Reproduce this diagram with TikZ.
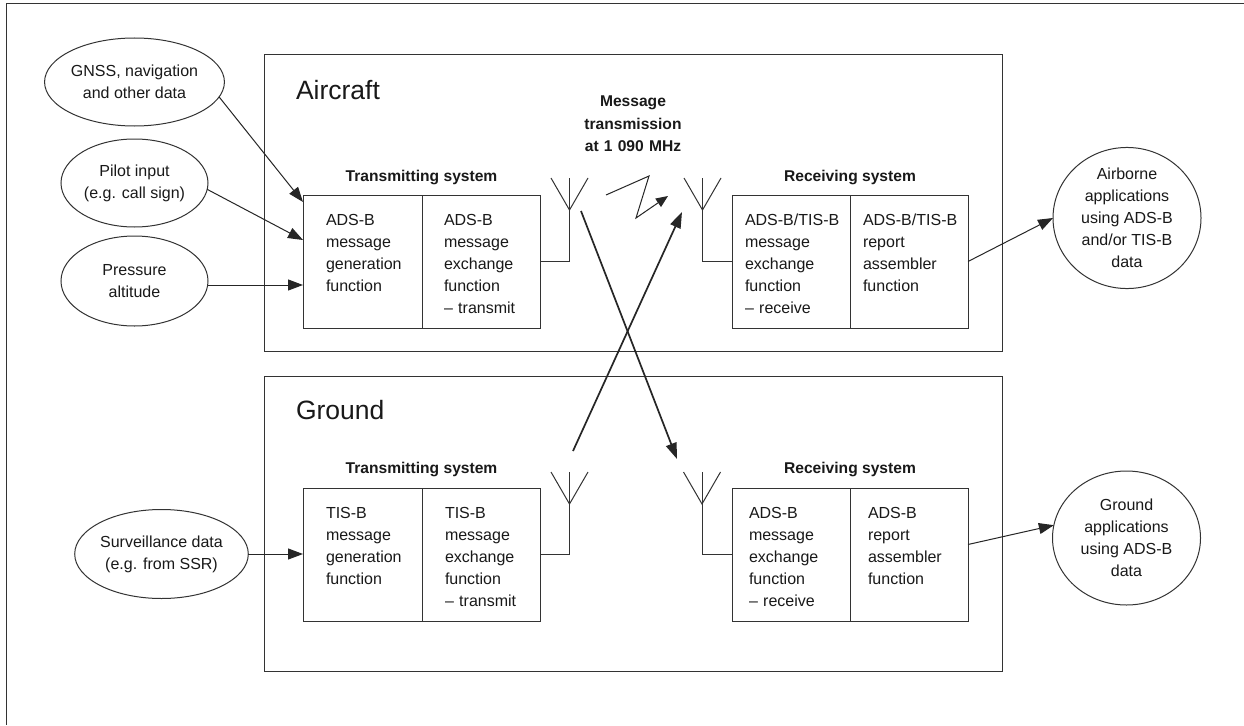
\documentclass[tikz,border=0pt]{standalone}
\usepackage{fontspec}
\setmainfont{Liberation Sans}
\usetikzlibrary{arrows.meta,calc,shapes.geometric}
\begin{document}
\begin{tikzpicture}[x=1pt,y=-1pt,
  every node/.style={inner sep=0pt, outer sep=0pt, text=black!90},
  ln/.style={draw=black!80, line width=1pt},
  area/.style={ln, anchor=north west},
  cell/.style={ln, anchor=north west, minimum height=133pt},
  ctext/.style={anchor=base west, text width=112pt, align=left, font=\fontsize{16}{22}\selectfont},
  bigtitle/.style={anchor=base west, font=\fontsize{26.5}{30}\selectfont},
  sysl/.style={anchor=base, font=\bfseries\fontsize{15.6}{22}\selectfont},
  src/.style={ln, ellipse, minimum width=147pt, minimum height=88pt, align=center, font=\fontsize{16}{22}\selectfont},
  app/.style={ln, ellipse, minimum width=148pt, minimum height=134pt, align=center, font=\fontsize{16}{22}\selectfont},
  arr/.style={draw=black!85, line width=1pt, -{Triangle[length=15pt,width=11pt]}},
  xarr/.style={draw=black!85, line width=1.7pt, -{Triangle[length=16pt,width=11pt]}},
  zarr/.style={draw=black!85, line width=1pt, -{Triangle[length=12pt,width=10pt]}},
  antenna/.pic={\draw[ln] (-18.5,0) -- (0,32) -- (18.5,0);}
]
\useasboundingbox (0,0) rectangle (1244,725);
\fill[white] (0,0) rectangle (1244,725);

% outer frame (cropped at right and bottom)
\draw[ln] (1244,4) -- (6,4) -- (6,725);

% areas
\node[area, minimum width=738pt, minimum height=296pt] (air) at (264,55) {};
\node[area, minimum width=738pt, minimum height=295pt] (gnd) at (264,376) {};
\node[bigtitle] (airt) at (296,99) {Aircraft};
\node[bigtitle] (gndt) at (296,419) {Ground};

% aircraft transmitting system
\node[sysl] (atxl) at (421.5,181) {Transmitting system};
\node[cell, minimum width=119pt] (atx1) at (303,195) {};
\node[cell, minimum width=118pt] (atx2) at (422,195) {};
\node[ctext] (atx1t) at (326,225) {ADS-B\\message\\generation\\function};
\node[ctext] (atx2t) at (444,225) {ADS-B\\message\\exchange\\function\\\textendash\ transmit};

% aircraft receiving system
\node[sysl] (arxl) at (850,181) {Receiving system};
\node[cell, minimum width=118pt] (arx1) at (732,195) {};
\node[cell, minimum width=118pt] (arx2) at (850,195) {};
\node[ctext] (arx1t) at (745,225) {ADS-B/TIS-B\\message\\exchange\\function\\\textendash\ receive};
\node[ctext] (arx2t) at (863,225) {ADS-B/TIS-B\\report\\assembler\\function};

% ground transmitting system
\node[sysl] (gtxl) at (421.5,473.5) {Transmitting system};
\node[cell, minimum width=119pt] (gtx1) at (303,488) {};
\node[cell, minimum width=118pt] (gtx2) at (422,488) {};
\node[ctext] (gtx1t) at (326,518) {TIS-B\\message\\generation\\function};
\node[ctext] (gtx2t) at (445,518) {TIS-B\\message\\exchange\\function\\\textendash\ transmit};

% ground receiving system
\node[sysl] (grxl) at (850,473.5) {Receiving system};
\node[cell, minimum width=118pt] (grx1) at (732,488) {};
\node[cell, minimum width=118pt] (grx2) at (850,488) {};
\node[ctext] (grx1t) at (749,518) {ADS-B\\message\\exchange\\function\\\textendash\ receive};
\node[ctext] (grx2t) at (868,518) {ADS-B\\report\\assembler\\function};

% message transmission label
\node[anchor=base, align=center, text width=150pt, font=\bfseries\fontsize{15.6}{22.5}\selectfont] (msg) at (633,106.5) {Message\\transmission\\at 1 090 MHz};

% inputs
\node[src] (gnss) at (134.5,82) {GNSS, navigation\\and other data};
\node[src] (pilot) at (134.5,183) {Pilot input\\(e.g. call sign)};
\node[src, minimum height=90pt] (press) at (134.5,281) {Pressure\\altitude};
\node[src, minimum width=148pt, minimum height=89pt] (surv) at (161.5,554) {Surveillance data\\(e.g. from SSR)};

% applications
\node[app] (airapp) at (1127,218) {Airborne\\applications\\using ADS-B\\and/or TIS-B\\data};
\node[app] (gapp) at (1126.5,538) {Ground\\applications\\using ADS-B\\data};

% input arrows
\draw[arr] (gnss.350) -- ([yshift=-7pt]atx1.north west);
\draw[arr] (pilot.355) -- ([yshift=-45pt]atx1.north west);
\draw[arr] ([yshift=-4pt]press.east) -- ([yshift=-4pt]press.east -| atx1.west);
\draw[arr] (surv.east) -- (surv.east -| gtx1.west);

% output arrows
\draw[arr] (arx2.east) -- (airapp.west);
\draw[arr] ([yshift=10pt]grx2.east) -- (gapp.170);

% antennas
\coordinate (atxA) at (569.5,178);
\coordinate (arxA) at (702.5,178);
\coordinate (gtxA) at (569.5,472);
\coordinate (grxA) at (702,472);
\draw[ln] (atx2.east) -| (atxA);
\draw[ln] (arx1.west) -| (arxA);
\draw[ln] (gtx2.east) -| (gtxA);
\draw[ln] (grx1.west) -| (grxA);
\pic at (atxA) {antenna};
\pic at (arxA) {antenna};
\pic at (gtxA) {antenna};
\pic at (grxA) {antenna};

% radio link zigzag
\coordinate (z0) at (606,195);
\coordinate (z1) at (649,176);
\coordinate (z2) at (636,218);
\coordinate (z3) at (668,196);
\draw[zarr] (z0) -- (z1) -- (z2) -- (z3);

% crossing transmissions
\coordinate (aS) at (581,211);
\coordinate (aE) at (677,459);
\coordinate (bS) at (573,451);
\coordinate (bE) at (682,212);
\draw[xarr] (aS) -- (aE);
\draw[xarr] (bS) -- (bE);
\end{tikzpicture}
\end{document}
